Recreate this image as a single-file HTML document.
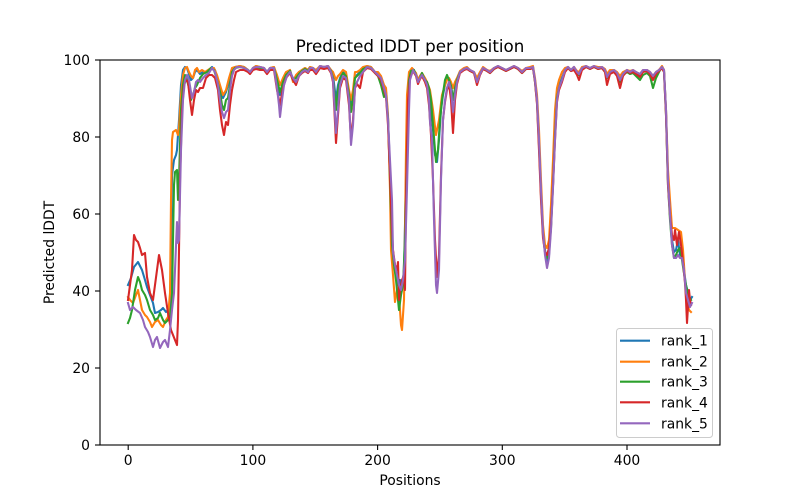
<!DOCTYPE html>
<html><head><meta charset="utf-8"><style>
html,body{margin:0;padding:0;background:#fff;}
svg{display:block;font-family:"DejaVu Sans","Liberation Sans",sans-serif;}
</style></head><body>
<svg width="800" height="500" viewBox="0 0 800 500" xmlns="http://www.w3.org/2000/svg">
<rect x="0" y="0" width="800" height="500" fill="#fff"/>
<text x="410" y="52" font-size="16.7" text-anchor="middle" fill="#000">Predicted lDDT per position</text>
<g fill="none" stroke-width="2.08" stroke-linejoin="round" stroke-linecap="square">
<polyline stroke="#1f77b4" points="128,285 131,278 134,267 138,262 142,270 145,280 147,287 150,295 153,303 155,313 158,312 161,310 163,308 166,312 168,310 170,313 171,250 172,175 174,160 176,155 177,150 179,120 181,85 183,70 185,67 187,68 189,74 191,80 193,78 195,72 197,70 200,74 203,72 206,72 209,70 212,67 215,70 218,80 221,92 223,98 226,92 229,82 232,70 235,67 240,66 244,67 248,70 250,72 253,68 256,66 260,67 264,68 267,72 270,68 274,67 277,80 280,95 283,82 286,74 290,70 293,80 296,76 299,72 302,70 305,68 308,70 310,67 313,68 316,71 320,66 324,67 328,66 331,70 333,75 336,100 338,85 340,78 343,72 346,75 349,92 351,108 353,95 355,76 357,75 360,72 363,68 367,66 371,67 375,72 378,74 381,78 384,86 386,92 388,118 390,170 392,240 394,262 396,275 398,285 400,280 402,290 404,270 406,180 408,95 410,74 413,69 416,74 418,80 420,76 422,74 425,80 427,86 429,95 431,110 433,130 435,155 437,162 439,140 441,110 443,95 445,85 447,78 449,80 451,85 453,100 455,90 457,80 460,72 464,69 467,68 470,70 474,72 477,80 480,73 483,68 487,70 490,72 494,68 498,66 502,68 506,70 510,68 514,66 518,68 522,72 526,68 530,68 533,67 535,80 537,100 539,140 541,190 543,230 545,250 547,262 549,255 551,225 553,180 555,130 557,95 559,86 562,78 565,70 568,67 571,70 574,67 577,72 579,73 582,68 586,66 590,68 594,66 598,68 602,67 605,70 607,76 610,71 614,70 617,73 620,78 623,73 627,70 630,72 633,71 636,72 640,75 643,71 647,70 650,73 653,78 656,73 659,70 662,67 664,70 666,110 668,180 670,215 672,240 674,252 676,250 678,240 680,255 682,255 684,270 686,285 688,292 690,300 692,297"/>
<polyline stroke="#ff7f0e" points="128,297 130,300 133,303 136,295 138,290 140,300 142,310 145,315 147,317 150,322 152,327 155,322 158,320 161,325 163,327 166,320 168,317 170,293 171,200 172,140 173,132 176,130 178,135 179,128 181,95 183,75 185,68 187,67 189,72 191,76 193,78 195,70 197,68 199,72 202,70 205,72 208,70 211,68 214,68 217,75 220,85 223,95 226,90 229,78 232,68 235,67 240,66 244,67 248,70 250,72 253,68 256,66 260,67 264,68 267,72 270,68 274,67 277,75 280,85 283,78 286,72 290,70 293,82 296,75 299,72 302,70 305,68 308,70 310,67 313,68 316,70 320,66 324,67 328,66 331,70 333,72 336,80 338,76 340,74 343,70 346,72 349,90 351,100 353,90 355,72 357,72 360,70 363,67 367,66 371,67 375,72 378,72 381,76 384,85 386,88 388,115 390,190 391,250 393,275 395,302 397,290 399,295 401,325 402,330 404,300 405,230 406,150 407,95 409,72 412,68 416,73 418,80 420,76 422,73 425,78 427,82 430,90 433,110 436,135 439,120 442,95 445,85 447,80 449,78 451,82 453,88 455,82 457,78 460,71 464,68 467,67 470,70 474,72 477,78 480,72 483,67 487,70 490,71 494,68 498,66 502,68 506,70 510,68 514,66 518,68 522,71 526,68 530,67 533,66 535,78 537,95 539,130 541,180 543,225 545,245 547,248 549,240 551,205 553,160 555,110 557,88 559,80 562,72 565,68 568,67 571,70 574,67 577,71 579,72 582,67 586,66 590,68 594,66 598,67 602,67 605,69 607,74 610,70 614,70 617,72 620,76 623,72 627,70 630,71 633,70 636,72 640,74 643,70 647,70 650,72 653,76 656,72 659,70 662,66 664,70 666,110 668,170 670,200 672,228 675,228 678,230 681,232 683,250 685,280 687,300 689,310 691,312"/>
<polyline stroke="#2ca02c" points="128,323 130,318 132,310 135,290 138,277 140,282 142,290 145,295 147,300 150,310 153,315 155,320 158,318 160,313 163,320 165,323 168,320 170,317 172,300 173,240 174,185 175,172 177,170 178,200 179,180 181,110 183,85 185,75 187,80 189,88 191,100 193,95 195,88 197,85 200,78 203,74 207,72 211,68 214,70 217,80 220,92 222,105 224,110 226,100 228,98 230,85 232,72 235,68 240,67 244,68 248,70 250,73 253,69 256,67 260,68 264,69 267,73 270,69 274,68 277,80 280,92 283,82 286,75 290,71 293,80 296,78 299,74 302,71 305,69 308,71 310,68 313,69 316,72 320,67 324,68 328,67 331,71 333,78 336,110 338,90 340,80 343,73 346,76 349,95 351,112 353,98 355,78 357,76 360,73 363,69 367,67 371,68 375,73 378,76 381,85 384,97 386,95 388,118 390,180 392,245 394,265 396,280 398,300 399,310 401,295 403,285 405,240 407,150 409,80 411,71 414,70 416,75 418,82 420,78 422,73 425,80 427,82 429,88 431,100 433,125 435,150 436,162 438,150 440,120 442,100 445,80 447,75 449,80 451,86 453,100 455,88 457,80 460,72 464,70 467,68 470,71 474,73 477,82 480,74 483,69 487,71 490,73 494,69 498,67 502,69 506,71 510,69 514,67 518,69 522,73 526,69 530,69 533,68 535,82 537,102 539,145 541,195 543,235 545,252 547,258 549,250 551,228 553,185 555,135 557,98 559,88 562,80 565,71 568,68 571,71 574,68 577,73 579,75 582,69 586,67 590,69 594,67 598,69 602,68 605,72 607,78 610,73 614,72 617,75 620,82 623,75 627,72 630,74 633,73 636,76 640,80 643,75 647,73 650,76 653,88 656,78 659,72 662,67 664,72 666,115 668,185 670,220 672,245 674,258 676,255 678,250 680,248 682,260 685,280 688,295 691,300"/>
<polyline stroke="#d62728" points="128,300 130,285 132,270 134,235 136,240 138,242 140,248 142,255 145,253 147,277 150,293 153,300 155,285 157,270 159,255 162,270 165,293 168,313 171,330 173,335 175,340 177,345 178,320 179,250 180,180 182,110 184,85 186,80 188,82 190,100 192,115 194,100 196,90 198,92 200,88 203,88 206,78 209,75 212,75 215,78 218,90 220,110 222,125 224,135 226,122 228,125 230,105 232,90 234,80 236,72 240,70 244,70 248,72 250,74 253,70 256,69 260,70 264,70 267,74 270,70 274,70 277,90 280,105 283,88 286,78 290,73 293,80 296,85 299,76 302,73 305,71 308,73 310,70 313,70 316,74 320,68 324,69 328,68 331,73 333,82 336,143 338,115 340,88 343,78 346,80 349,105 351,140 353,120 355,88 357,84 360,88 363,72 367,68 371,69 375,73 378,76 381,80 384,90 386,97 388,125 390,175 392,230 393,250 395,265 397,270 398,262 399,300 400,290 401,285 402,280 404,275 405,290 406,200 408,100 410,78 413,71 416,76 418,84 420,79 422,76 425,82 427,88 429,105 431,135 433,180 435,240 437,277 439,255 441,175 443,120 445,102 447,90 449,84 451,100 453,133 455,100 457,84 460,73 464,70 467,69 470,71 474,73 477,85 480,75 483,69 487,71 490,73 494,69 498,67 502,69 506,71 510,69 514,67 518,69 522,73 526,69 530,69 533,68 535,82 537,104 539,150 541,200 543,238 545,252 547,255 549,248 551,225 553,185 555,140 557,102 559,90 562,82 565,72 568,68 571,71 574,70 577,75 579,80 582,70 586,67 590,69 594,67 598,69 602,68 605,72 607,85 610,74 614,72 617,76 620,88 623,76 627,71 630,73 633,72 636,74 640,77 643,72 647,71 650,74 653,80 656,74 659,71 662,68 664,72 666,115 668,185 670,215 672,235 674,240 675,230 677,245 679,232 681,245 683,262 685,283 686,300 687,323 689,290 690,300 691,305"/>
<polyline stroke="#9467bd" points="128,303 130,310 133,307 136,310 140,313 143,320 145,327 148,332 150,337 153,347 155,340 157,337 160,348 163,342 165,340 168,347 170,330 172,310 174,293 175,270 177,222 178,243 179,240 181,150 183,100 185,80 187,75 189,80 191,92 192,98 194,92 196,82 198,80 200,82 203,78 206,75 209,73 212,68 215,72 218,85 220,100 222,112 224,118 226,112 228,110 230,90 232,76 234,70 237,67 240,67 244,68 248,70 250,72 253,68 256,67 260,67 264,68 267,72 270,68 274,68 277,88 279,105 280,117 282,100 284,85 287,76 290,72 293,78 296,82 299,76 302,72 305,70 308,72 310,68 313,68 316,72 320,66 324,67 328,66 331,72 333,80 336,133 338,110 340,85 343,76 346,78 349,100 351,145 353,125 355,88 357,82 360,76 363,72 367,67 371,68 375,72 378,75 381,78 384,88 386,95 388,120 390,160 392,200 393,252 395,265 397,275 399,285 401,290 403,280 405,260 407,188 409,110 410,80 413,70 416,75 418,82 420,78 422,75 425,80 427,85 429,100 430,122 432,140 434,220 436,285 437,293 439,270 441,180 443,120 445,100 447,88 449,82 451,90 453,112 455,95 457,82 460,72 464,69 467,68 470,70 474,72 477,82 480,74 483,68 487,70 490,72 494,68 498,66 502,68 506,70 510,68 514,66 518,68 522,72 526,68 530,68 533,67 535,80 537,100 539,140 541,190 543,232 545,255 547,268 549,258 551,230 553,188 555,140 557,100 559,88 562,80 565,70 568,67 571,70 574,67 577,72 579,74 582,68 586,66 590,68 594,66 598,68 602,67 605,70 607,77 610,72 614,70 617,73 620,80 623,74 627,70 630,72 633,70 636,72 640,74 643,70 647,70 650,72 653,76 656,72 659,70 662,67 664,70 666,110 668,180 670,215 672,245 674,258 676,258 678,255 680,258 682,258 684,270 686,293 688,300 690,307 692,303"/>
</g>
<rect x="100" y="60" width="620" height="385" fill="none" stroke="#000" stroke-width="1.1"/>
<g stroke="#000" stroke-width="1.1">
<line x1="95" y1="445" x2="100" y2="445"/><line x1="95" y1="368" x2="100" y2="368"/><line x1="95" y1="291" x2="100" y2="291"/><line x1="95" y1="214" x2="100" y2="214"/><line x1="95" y1="137" x2="100" y2="137"/><line x1="95" y1="60" x2="100" y2="60"/>
<line x1="128.2" y1="445" x2="128.2" y2="450"/><line x1="252.9" y1="445" x2="252.9" y2="450"/><line x1="377.6" y1="445" x2="377.6" y2="450"/><line x1="502.3" y1="445" x2="502.3" y2="450"/><line x1="627" y1="445" x2="627" y2="450"/>
</g>
<g font-size="13.9" fill="#000" text-anchor="end">
<text x="90" y="450">0</text><text x="90" y="373">20</text><text x="90" y="296">40</text><text x="90" y="219">60</text><text x="90" y="142">80</text><text x="90" y="65">100</text>
</g>
<g font-size="13.9" fill="#000" text-anchor="middle">
<text x="128.2" y="465">0</text><text x="252.9" y="465">100</text><text x="377.6" y="465">200</text><text x="502.3" y="465">300</text><text x="627" y="465">400</text>
<text x="410" y="485">Positions</text>
<text x="0" y="0" transform="translate(54,252.5) rotate(-90)">Predicted lDDT</text>
</g>
<rect x="616.5" y="328.5" width="96" height="109" rx="3" ry="3" fill="#fff" fill-opacity="0.8" stroke="#ccc" stroke-width="1"/>
<g stroke-width="2.08">
<line x1="620" y1="340.7" x2="650" y2="340.7" stroke="#1f77b4"/>
<line x1="620" y1="361.7" x2="650" y2="361.7" stroke="#ff7f0e"/>
<line x1="620" y1="381.7" x2="650" y2="381.7" stroke="#2ca02c"/>
<line x1="620" y1="402.3" x2="650" y2="402.3" stroke="#d62728"/>
<line x1="620" y1="423.3" x2="650" y2="423.3" stroke="#9467bd"/>
</g>
<g font-size="13.9" fill="#000">
<text x="661" y="345.7">rank_1</text>
<text x="661" y="366.7">rank_2</text>
<text x="661" y="386.7">rank_3</text>
<text x="661" y="407.3">rank_4</text>
<text x="661" y="428.3">rank_5</text>
</g>
</svg>
</body></html>
